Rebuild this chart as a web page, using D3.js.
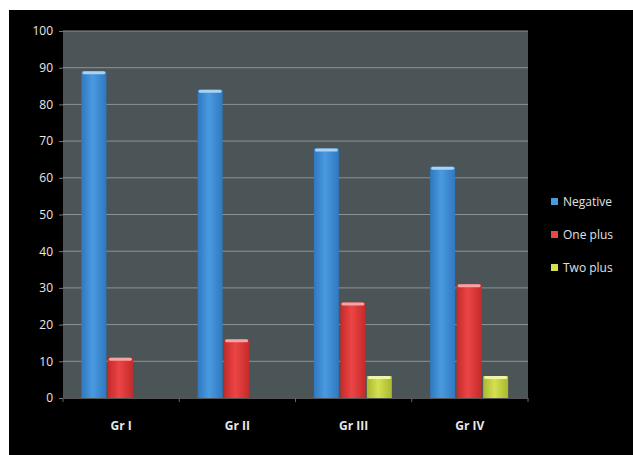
<!DOCTYPE html>
<html>
<head>
<meta charset="utf-8">
<script src="https://cdn.jsdelivr.net/npm/d3@7"></script>
<style>
  body { margin: 0; background: #fff; }
  svg { display: block; }
  text { font-family: "Open Sans", "Liberation Sans", sans-serif; }
</style>
</head>
<body>
<svg id="chart"></svg>
<script>
// values (percent)
const categories = ['Gr I', 'Gr II', 'Gr III', 'Gr IV']
const seriesNames = ['Negative', 'One plus', 'Two plus']
const negative = [89, 84, 68, 63]
const onePlus = [11, 16, 26, 31]
const twoPlus = [0, 0, 6, 6]
const yTicks = [0, 10, 20, 30, 40, 50, 60, 70, 80, 90, 100]

const series = [negative, onePlus, twoPlus]
const colors = [
  { id: 'gBlue', edge: '#2f78c0', mid: '#4a9ae0', cap: '#a9d3f5' },
  { id: 'gRed', edge: '#c52a2a', mid: '#ec4545', cap: '#f7a3a3' },
  { id: 'gYel', edge: '#a8b830', mid: '#d4e050', cap: '#eef5a8' }
]

const width = 633, height = 455
/* CONFIG */
const config = {
  frame: { x: 9, y: 10 },
  plot: { left: 63, right: 528, top: 31, bottom: 398 },
  barWidth: 25,
  barGap: 1.5
}

const svg = d3.select('#chart')
  .attr('width', width)
  .attr('height', height)

svg.append('rect')
  .attr('x', config.frame.x).attr('y', config.frame.y)
  .attr('width', width - config.frame.x).attr('height', height - config.frame.y)
  .attr('fill', '#000')

const defs = svg.append('defs')
colors.forEach(c => {
  const g = defs.append('linearGradient').attr('id', c.id)
    .attr('x1', 0).attr('x2', 1).attr('y1', 0).attr('y2', 0)
  g.append('stop').attr('offset', '0%').attr('stop-color', c.edge)
  g.append('stop').attr('offset', '45%').attr('stop-color', c.mid)
  g.append('stop').attr('offset', '100%').attr('stop-color', c.edge)
})

const p = config.plot
const x = d3.scaleBand().domain(categories).range([p.left, p.right])
const y = d3.scaleLinear().domain([0, 100]).range([p.bottom, p.top])

svg.append('rect')
  .attr('x', p.left).attr('y', p.top)
  .attr('width', p.right - p.left).attr('height', p.bottom - p.top)
  .attr('fill', '#4b5456')

// gridlines
svg.append('g')
  .selectAll('line')
  .data(yTicks.filter(d => d > 0))
  .join('line')
  .attr('x1', p.left).attr('x2', p.right)
  .attr('y1', d => y(d)).attr('y2', d => y(d))
  .attr('stroke', '#8c9394').attr('stroke-width', 1)

// y axis
const yAxis = svg.append('g')
  .attr('transform', `translate(${p.left},0)`)
  .call(d3.axisLeft(y).tickValues(yTicks).tickSize(4).tickPadding(6))
yAxis.select('.domain').remove()
yAxis.selectAll('line').attr('stroke', '#777')
yAxis.selectAll('text').attr('fill', '#e8e8e8').attr('font-size', 12)

// x axis with ticks on the category boundaries
const xAxis = svg.append('g')
  .attr('transform', `translate(0,${p.bottom})`)
  .call(d3.axisBottom(x).tickSize(0).tickPadding(23))
xAxis.select('.domain').attr('stroke', '#555')
xAxis.selectAll('text').attr('fill', '#e8e8e8').attr('font-size', 12).attr('font-weight', 'bold')
xAxis.append('g')
  .selectAll('line')
  .data(categories.map(c => x(c)).concat([p.right]))
  .join('line')
  .attr('x1', d => d).attr('x2', d => d)
  .attr('y1', 0).attr('y2', 4)
  .attr('stroke', '#666')

// bars
const inner = d3.scaleBand().domain(d3.range(series.length))
  .range([0, series.length * (config.barWidth + config.barGap)])
const groupOffset = (x.bandwidth() - inner.range()[1]) / 2

series.forEach((vals, si) => {
  const c = colors[si]
  const g = svg.append('g')
  const bx = cat => x(cat) + groupOffset + inner(si)
  g.selectAll('rect.bar')
    .data(vals.map((v, i) => ({ cat: categories[i], v })).filter(d => d.v > 0))
    .join('rect')
    .attr('class', 'bar')
    .attr('x', d => bx(d.cat))
    .attr('y', d => y(d.v))
    .attr('width', config.barWidth)
    .attr('height', d => y(0) - y(d.v))
    .attr('fill', `url(#${c.id})`)
  g.selectAll('rect.cap')
    .data(vals.map((v, i) => ({ cat: categories[i], v })).filter(d => d.v > 0))
    .join('rect')
    .attr('class', 'cap')
    .attr('x', d => bx(d.cat) + 1)
    .attr('y', d => y(d.v))
    .attr('width', config.barWidth - 2)
    .attr('height', 3)
    .attr('rx', 1.5)
    .attr('fill', c.cap)
})

// legend
const legend = svg.append('g').attr('transform', 'translate(551,202)')
seriesNames.forEach((name, i) => {
  const row = legend.append('g').attr('transform', `translate(0,${i * 33})`)
  row.append('rect')
    .attr('x', 0).attr('y', -4).attr('width', 7).attr('height', 7)
    .attr('fill', colors[i].mid)
  row.append('text')
    .attr('x', 12).attr('y', 0).attr('dy', '0.35em')
    .attr('fill', '#e0e0e0').attr('font-size', 12)
    .text(name)
})
</script>
</body>
</html>
